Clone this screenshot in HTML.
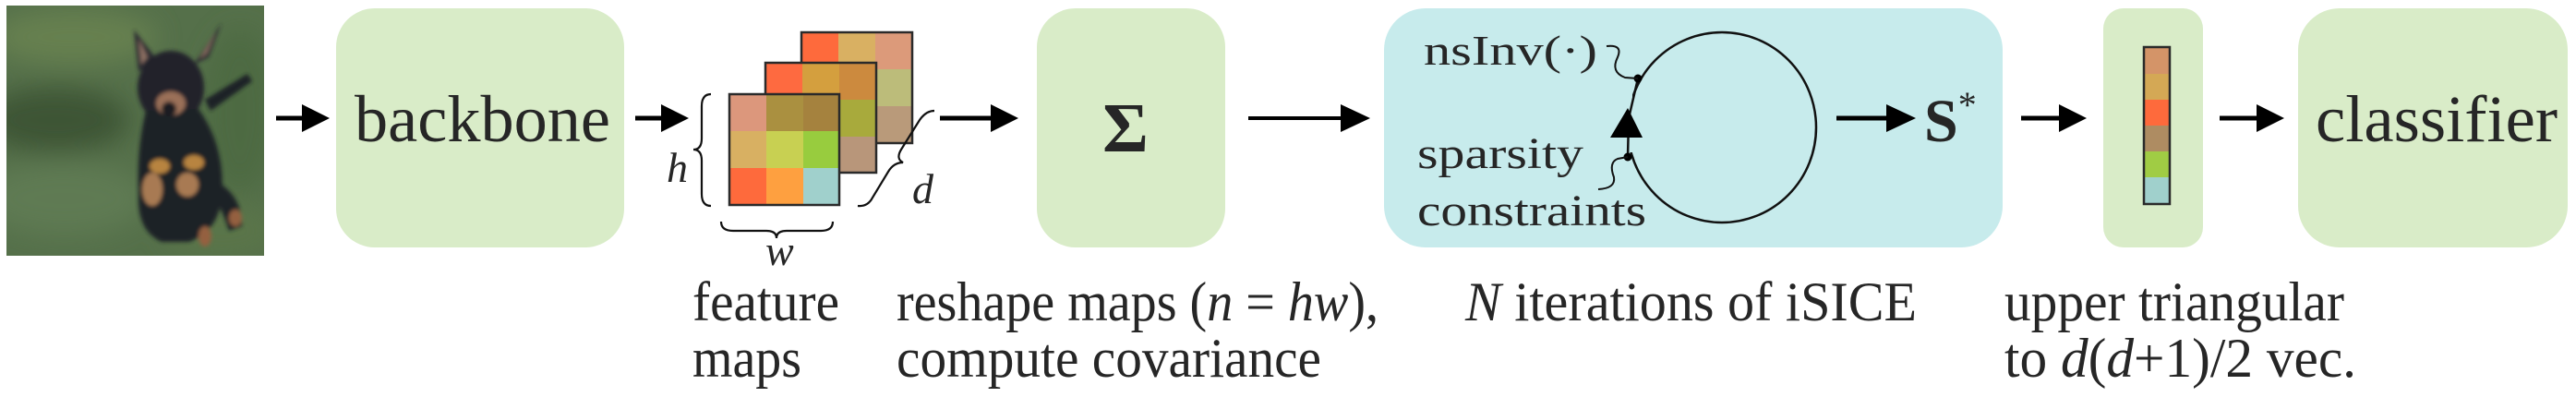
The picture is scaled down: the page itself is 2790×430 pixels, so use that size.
<!DOCTYPE html>
<html><head><meta charset="utf-8"><title>iSICE pipeline</title>
<style>
html,body{margin:0;padding:0;background:#fff;}
svg{display:block;}
text{font-family:"Liberation Serif","Times New Roman","DejaVu Serif",serif;fill:#262626;}
</style></head>
<body>
<svg width="2790" height="430" viewBox="0 0 2790 430" xmlns="http://www.w3.org/2000/svg">
<defs>
  <filter id="blur" x="-20%" y="-20%" width="140%" height="140%"><feGaussianBlur stdDeviation="14"/></filter>
  <filter id="soft"><feGaussianBlur stdDeviation="2"/></filter>
  <clipPath id="photoClip"><rect x="7" y="6" width="279" height="271"/></clipPath>
</defs>

<!-- input photo -->
<g clip-path="url(#photoClip)">
  <rect x="7" y="6" width="279" height="271" fill="#55704a"/>
  <g filter="url(#blur)">
    <ellipse cx="60" cy="130" rx="80" ry="35" fill="#3d5534"/>
    <ellipse cx="80" cy="40" rx="90" ry="30" fill="#66804f"/>
    <ellipse cx="70" cy="215" rx="90" ry="40" fill="#5f7a52"/>
    <ellipse cx="260" cy="120" rx="40" ry="90" fill="#4e6a42"/>
    <ellipse cx="240" cy="250" rx="60" ry="30" fill="#5a7548"/>
  </g>
  <g filter="url(#soft)">
    <path d="M222 108 L268 80 L273 88 L228 120 Z" fill="#1e2126"/>
    <polygon points="145,32 168,62 150,78" fill="#2a2b30"/>
    <polygon points="240,25 226,62 210,70" fill="#2a2b30"/>
    <polygon points="150,42 160,62 153,70" fill="#8a6e62"/>
    <polygon points="234,34 224,58 216,64" fill="#8a6e62"/>
    <ellipse cx="185" cy="95" rx="36" ry="40" fill="#20242b"/>
    <path d="M158 120 L215 118 Q245 160 240 215 Q236 250 205 262 L175 262 Q148 250 150 210 Q148 160 158 120 Z" fill="#1d2128"/>
    <path d="M240 200 Q262 215 262 245 L248 250 Q240 225 232 215 Z" fill="#1d2128"/>
    <ellipse cx="185" cy="112" rx="16" ry="13" fill="#9a7058"/>
    <ellipse cx="183" cy="118" rx="8" ry="8" fill="#1c1c20"/>
    <ellipse cx="173" cy="180" rx="11" ry="8" fill="#b8843f"/>
    <ellipse cx="210" cy="176" rx="11" ry="8" fill="#b8843f"/>
    <ellipse cx="165" cy="205" rx="11" ry="18" fill="#a87a52"/>
    <ellipse cx="203" cy="200" rx="12" ry="13" fill="#a87a52"/>
    <ellipse cx="222" cy="256" rx="7" ry="11" fill="#946040"/>
    <ellipse cx="255" cy="236" rx="7" ry="9" fill="#946040"/>
  </g>
</g>

<!-- backbone -->
<g>
  <rect x="364" y="9" width="312" height="259" rx="42" fill="#d9ecc8"/>
  <text x="384" y="153" font-size="72" textLength="277" lengthAdjust="spacingAndGlyphs">backbone</text>
</g>

<!-- feature maps -->
<g stroke="none">
  <g>
    <rect x="868" y="35" width="40" height="40" fill="#fe6a3c"/>
    <rect x="908" y="35" width="40" height="40" fill="#d9b062"/>
    <rect x="948" y="35" width="40" height="40" fill="#dc9a7a"/>
    <rect x="948" y="75" width="40" height="40" fill="#bcbc7a"/>
    <rect x="948" y="115" width="40" height="40" fill="#b99a7a"/>
    <rect x="868" y="35" width="120" height="120" fill="none" stroke="#2a2a2a" stroke-width="2.5"/>
  </g>
  <g>
    <rect x="829" y="68" width="40" height="40" fill="#fe6a40"/>
    <rect x="869" y="68" width="40" height="40" fill="#d49f3e"/>
    <rect x="909" y="68" width="40" height="40" fill="#cc8a3e"/>
    <rect x="909" y="108" width="40" height="40" fill="#a8aa3c"/>
    <rect x="909" y="148" width="40" height="39" fill="#b8967a"/>
    <rect x="829" y="68" width="120" height="119" fill="none" stroke="#2a2a2a" stroke-width="2.5"/>
  </g>
  <g>
    <rect x="790" y="102" width="40" height="40" fill="#dc977c"/>
    <rect x="830" y="102" width="40" height="40" fill="#aa9040"/>
    <rect x="870" y="102" width="39" height="40" fill="#a5823e"/>
    <rect x="790" y="142" width="40" height="40" fill="#d8b062"/>
    <rect x="830" y="142" width="40" height="40" fill="#c8d052"/>
    <rect x="870" y="142" width="39" height="40" fill="#98cc3e"/>
    <rect x="790" y="182" width="40" height="40" fill="#fe6a3c"/>
    <rect x="830" y="182" width="40" height="40" fill="#fea040"/>
    <rect x="870" y="182" width="39" height="40" fill="#a0d0cc"/>
    <rect x="790" y="102" width="119" height="120" fill="none" stroke="#2a2a2a" stroke-width="2.5"/>
  </g>
</g>
<!-- braces -->
<g fill="none" stroke="#111" stroke-width="2.2">
  <path d="M770 102 Q760 102 760 115 L760 150 Q760 162 751 162 Q760 162 760 174 L760 210 Q760 223 770 223"/>
  <path d="M781 240 Q781 250 794 250 L830 250 Q841 250 841 258 Q841 250 852 250 L889 250 Q902 250 902 240"/>
  <path d="M929 223 Q940 224 945 214 L962 186 Q968 176 978 176 Q970 172 976 162 L996 130 Q1003 120 1012 120"/>
</g>
<text x="722" y="197" font-size="46" font-style="italic">h</text>
<text x="829" y="287" font-size="46" font-style="italic">w</text>
<text x="988" y="220" font-size="46" font-style="italic">d</text>

<!-- sigma -->
<g>
  <rect x="1123" y="9" width="204" height="259" rx="42" fill="#d9ecc8"/>
  <text x="1219" y="164" font-size="76" font-weight="bold" text-anchor="middle">Σ</text>
</g>

<!-- iSICE -->
<g>
  <rect x="1499" y="9" width="670" height="259" rx="45" fill="#c7ebec"/>
  <ellipse cx="1865" cy="138" rx="102" ry="103" fill="none" stroke="#111" stroke-width="2.5"/>
  <rect x="1748" y="90" width="20" height="75" fill="#c7ebec"/>
  <path d="M1774 85 L1764 128 L1763 170" fill="none" stroke="#111" stroke-width="2.5"/>
  <polygon points="1763,117 1779,149 1744,149" fill="#000"/>
  <circle cx="1774" cy="85" r="4.5" fill="#000"/>
  <circle cx="1763" cy="170" r="4.5" fill="#000"/>
  <path d="M1740 50 Q1758 48 1752 62 Q1744 78 1760 84 L1774 85" fill="none" stroke="#111" stroke-width="2"/>
  <path d="M1731 205 Q1750 204 1748 192 Q1742 176 1752 172 L1763 170" fill="none" stroke="#111" stroke-width="2"/>
  <text x="1542" y="70" font-size="46" textLength="188" lengthAdjust="spacingAndGlyphs">nsInv(·)</text>
  <text x="1535" y="182" font-size="48" textLength="180" lengthAdjust="spacingAndGlyphs">sparsity</text>
  <text x="1535" y="244" font-size="48" textLength="248" lengthAdjust="spacingAndGlyphs">constraints</text>
</g>
<text x="2084" y="153" font-size="66" font-weight="bold">S<tspan font-size="40" font-weight="normal" dy="-26">*</tspan></text>

<!-- vector -->
<g>
  <rect x="2278" y="9" width="108" height="259" rx="22" fill="#d9ecc8"/>
  <rect x="2322" y="51" width="28" height="29" fill="#d49468"/>
  <rect x="2322" y="80" width="28" height="28" fill="#d4a855"/>
  <rect x="2322" y="108" width="28" height="28" fill="#fe6a3c"/>
  <rect x="2322" y="136" width="28" height="28" fill="#ae8c62"/>
  <rect x="2322" y="164" width="28" height="28" fill="#a0cc44"/>
  <rect x="2322" y="192" width="28" height="29" fill="#a0d0cc"/>
  <rect x="2322" y="51" width="28" height="170" fill="none" stroke="#2a2a2a" stroke-width="2.5"/>
</g>

<!-- classifier -->
<g>
  <rect x="2489" y="9" width="292" height="259" rx="45" fill="#d9ecc8"/>
  <text x="2508" y="153" font-size="72" textLength="262" lengthAdjust="spacingAndGlyphs">classifier</text>
</g>

<!-- arrows (drawn last so they sit on top) -->
<g fill="#000" stroke="#000">
  <g><line x1="299" y1="128" x2="330" y2="128" stroke-width="5"/><polygon points="327,113 357,128 327,143" stroke="none"/></g>
  <g><line x1="688" y1="128" x2="718" y2="128" stroke-width="5"/><polygon points="716,113 746,128 716,143" stroke="none"/></g>
  <g><line x1="1018" y1="128" x2="1075" y2="128" stroke-width="5"/><polygon points="1073,113 1103,128 1073,143" stroke="none"/></g>
  <g><line x1="1352" y1="128" x2="1455" y2="128" stroke-width="4"/><polygon points="1452,113 1484,128 1452,143" stroke="none"/></g>
  <g><line x1="1989" y1="128" x2="2045" y2="128" stroke-width="5"/><polygon points="2043,113 2075,128 2043,143" stroke="none"/></g>
  <g><line x1="2189" y1="128" x2="2232" y2="128" stroke-width="5"/><polygon points="2230,113 2260,128 2230,143" stroke="none"/></g>
  <g><line x1="2404" y1="128" x2="2446" y2="128" stroke-width="5"/><polygon points="2444,113 2474,128 2444,143" stroke="none"/></g>
</g>

<!-- captions -->
<g font-size="60">
  <text x="750" y="347" textLength="159" lengthAdjust="spacingAndGlyphs">feature</text>
  <text x="750" y="408" textLength="118" lengthAdjust="spacingAndGlyphs">maps</text>
  <text x="971" y="347" textLength="522" lengthAdjust="spacingAndGlyphs">reshape maps (<tspan font-style="italic">n</tspan> = <tspan font-style="italic">hw</tspan>),</text>
  <text x="971" y="408" textLength="460" lengthAdjust="spacingAndGlyphs">compute covariance</text>
  <text x="1587" y="347" textLength="489" lengthAdjust="spacingAndGlyphs"><tspan font-style="italic">N</tspan> iterations of iSICE</text>
  <text x="2171" y="347" textLength="368" lengthAdjust="spacingAndGlyphs">upper triangular</text>
  <text x="2171" y="408" textLength="381" lengthAdjust="spacingAndGlyphs">to <tspan font-style="italic">d</tspan>(<tspan font-style="italic">d</tspan>+1)/2 vec.</text>
</g>
</svg>
</body></html>
